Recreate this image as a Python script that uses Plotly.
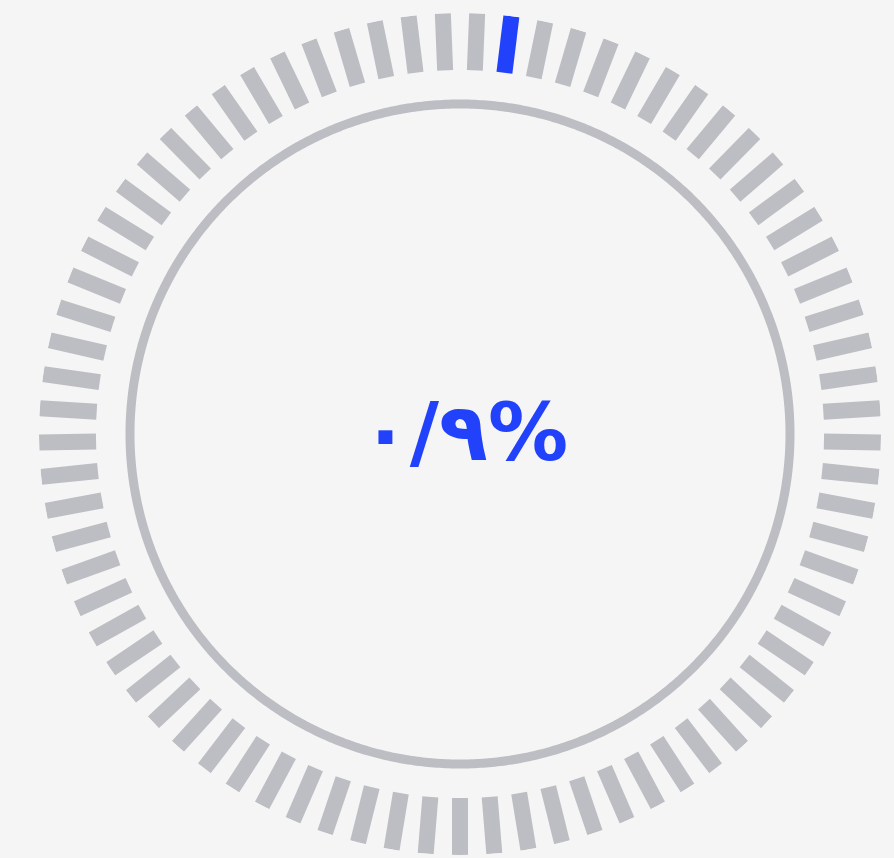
import plotly.graph_objects as go

# ---- data ----
n_segments = 77
active_segments = [1]
label_text = "۰/۹%"
ring_inner = 364
ring_outer = 421
circle_radius = 330

bg = "#f5f5f5"
gray = "#bdbec3"
blue = "#2142fa"

step = 360.0 / n_segments
theta_all = [(i + 0.5) * step for i in range(n_segments)]

def seg_coords(indices):
    r, t = [], []
    for i in indices:
        r += [ring_inner, ring_outer, None]
        t += [theta_all[i], theta_all[i], None]
    return r, t

gray_idx = [i for i in range(n_segments) if i not in active_segments]
gr, gt = seg_coords(gray_idx)
br, bt = seg_coords(active_segments)

fig = go.Figure()
circ_t = [i * 0.5 for i in range(721)]
fig.add_trace(go.Scatterpolar(r=[circle_radius] * len(circ_t), theta=circ_t, mode="lines",
                              line=dict(color=gray, width=9), hoverinfo="skip", cliponaxis=False))
fig.add_trace(go.Scatterpolar(r=gr, theta=gt, mode="lines", line=dict(color=gray, width=16),
                              hoverinfo="skip", cliponaxis=False))
fig.add_trace(go.Scatterpolar(r=br, theta=bt, mode="lines", line=dict(color=blue, width=16),
                              hoverinfo="skip", cliponaxis=False))

W, H = 894, 858
cx, cy = 460, 434
R = ring_outer
fig.update_layout(
    width=W, height=H, margin=dict(l=0, r=0, t=0, b=0),
    paper_bgcolor=bg, plot_bgcolor=bg, showlegend=False,
    polar=dict(
        domain=dict(x=[(cx - R) / W, (cx + R) / W], y=[(H - cy - R) / H, (H - cy + R) / H]),
        bgcolor=bg,
        radialaxis=dict(range=[0, R], visible=False, showgrid=False),
        angularaxis=dict(rotation=90, direction="clockwise", visible=False, showgrid=False),
    ),
    annotations=[dict(text=label_text, x=570 / W, y=(H - 432) / H, xref="paper", yref="paper",
                      showarrow=False, xanchor="right", yanchor="middle",
                      font=dict(family="DejaVu Sans", size=80, color=blue, weight="bold"))],
)
fig.write_html("out.html", config={"displayModeBar": False},
               post_script="document.body.style.margin='0';document.body.style.background='%s';" % bg)
